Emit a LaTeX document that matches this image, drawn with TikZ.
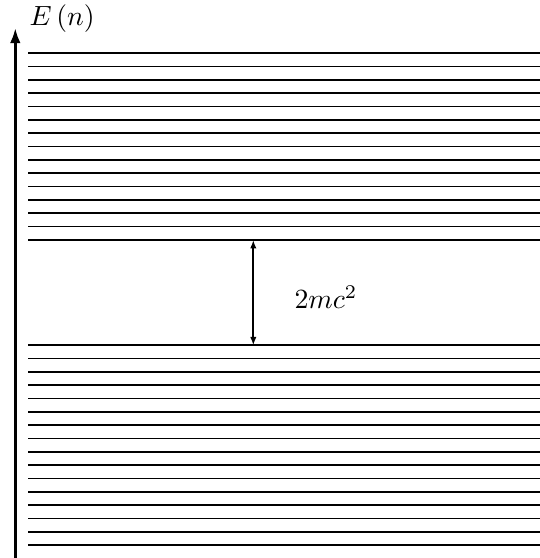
\documentclass[tikz,border=0pt]{standalone}
\usetikzlibrary{arrows.meta}
\begin{document}
\begin{tikzpicture}[x=0.36pt,y=-0.36pt,
  level/.style={line width=0.6pt},
  axis/.style={line width=1pt,-{Latex[length=5.4pt,width=3.8pt]}},
  gap/.style={line width=0.6pt,{Latex[length=3pt,width=2.3pt]}-{Latex[length=3pt,width=2.3pt]}},
  lbl/.style={inner sep=0pt}]
\useasboundingbox (0,0) rectangle (540,558);
% energy axis
\coordinate (axb) at (15.3,558);
\coordinate (axt) at (15.3,28);
\draw[axis] (axb) -- (axt);
\node[lbl,anchor=base west] (en) at (29,26) {$E\left(n\right)$};
% upper levels
\foreach \k in {0,...,14}{
  \draw[level] (28,{53.3+13.33*\k}) -- (540,{53.3+13.33*\k});
}
% lower levels
\foreach \k in {0,...,15}{
  \draw[level] (28,{345.3+13.33*\k}) -- (540,{345.3+13.33*\k});
}
% gap arrow
\coordinate (gt) at (253.3,240);
\coordinate (gb) at (253.3,345.3);
\draw[gap] (gb) -- (gt);
\node[lbl,anchor=west] (gl) at (294,297) {$2mc^2$};
\end{tikzpicture}
\end{document}
